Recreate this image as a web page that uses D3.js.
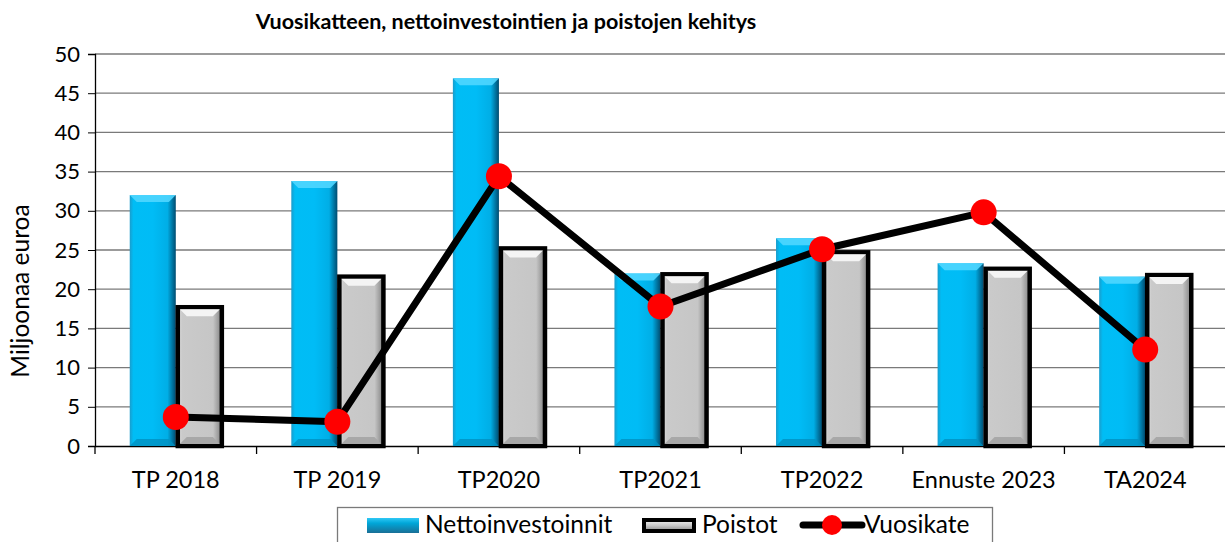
<!DOCTYPE html>
<html>
<head>
<meta charset="utf-8">
<script src="https://cdn.jsdelivr.net/npm/d3@7"></script>
<style>
  body { margin: 0; background: #fff; }
  svg { font-family: Lato, "Open Sans", sans-serif; }
</style>
</head>
<body>
<svg id="drawing_region"></svg>
<script>
// data
const categories = ["TP 2018", "TP 2019", "TP2020", "TP2021", "TP2022", "Ennuste 2023", "TA2024"];
const nettoinvestoinnit = [32.0, 33.8, 46.9, 22.0, 26.5, 23.3, 21.6];
const poistot = [17.7, 21.6, 25.2, 21.9, 24.7, 22.6, 21.8];
const vuosikate = [3.7, 3.1, 34.4, 17.8, 25.1, 29.8, 12.3];
const yTicks = [0, 5, 10, 15, 20, 25, 30, 35, 40, 45, 50];

const W = 1225, H = 542;
const margin = {top: 54, right: 0, bottom: 96, left: 95};
const inner_w = 1226 - margin.left;
const inner_h = H - margin.top - margin.bottom;

const svg = d3.select('#drawing_region').attr('width', W).attr('height', H);

// gradients
const defs = svg.append('defs');
const blueGrad = defs.append('linearGradient').attr('id', 'blueGrad');
[[0, '#1a9ccc'], [0.08, '#00bdf5'], [0.5, '#00bcf6'], [0.82, '#00aee6'], [1, '#004c70']]
  .forEach(s => blueGrad.append('stop').attr('offset', s[0]).attr('stop-color', s[1]));
const grayGrad = defs.append('linearGradient').attr('id', 'grayGrad');
[[0, '#e0e0e0'], [0.1, '#cacaca'], [0.8, '#c6c6c6'], [1, '#808080']]
  .forEach(s => grayGrad.append('stop').attr('offset', s[0]).attr('stop-color', s[1]));
const blueV = defs.append('linearGradient').attr('id', 'blueV').attr('x1', 0).attr('x2', 0).attr('y1', 0).attr('y2', 1);
[[0, '#2fc8f5'], [0.35, '#00a6d8'], [1, '#1a6f96']]
  .forEach(s => blueV.append('stop').attr('offset', s[0]).attr('stop-color', s[1]));
const grayV = defs.append('linearGradient').attr('id', 'grayV').attr('x1', 0).attr('x2', 0).attr('y1', 0).attr('y2', 1);
[[0, '#f2f2f2'], [0.5, '#c8c8c8'], [1, '#8a8a8a']]
  .forEach(s => grayV.append('stop').attr('offset', s[0]).attr('stop-color', s[1]));

const chart = svg.append('g').attr('transform', `translate(${margin.left},${margin.top})`);

const x = d3.scaleBand().domain(categories).range([0, inner_w]);
const y = d3.scaleLinear().domain([0, 50]).range([inner_h, 0]);
const barW = x.bandwidth() * 0.285;

// grid
chart.append('g').selectAll('line').data(yTicks.slice(1)).join('line')
  .attr('x1', 0).attr('x2', inner_w)
  .attr('y1', d => y(d)).attr('y2', d => y(d))
  .attr('stroke', '#7a7a7a').attr('stroke-width', 1.3);

// axes
const yAxis = chart.append('g').call(d3.axisLeft(y).tickValues(yTicks).tickSize(7).tickPadding(8));
yAxis.attr('font-family', null);
yAxis.select('.domain').attr('stroke', '#000').attr('stroke-width', 1.3);
yAxis.selectAll('.tick line').attr('stroke', '#000');
yAxis.selectAll('text').attr('font-size', 22).attr('fill', '#000');

const xAxis = chart.append('g').attr('transform', `translate(0,${inner_h})`)
  .call(d3.axisBottom(x).tickSize(0).tickPadding(25));
xAxis.attr('font-family', null);
xAxis.select('.domain').attr('stroke', '#000').attr('stroke-width', 1.3);
xAxis.selectAll('text').attr('font-size', 23.5).attr('fill', '#000');
chart.append('g').selectAll('line').data(d3.range(categories.length + 1)).join('line')
  .attr('x1', i => i * x.step()).attr('x2', i => i * x.step())
  .attr('y1', inner_h).attr('y2', inner_h + 8)
  .attr('stroke', '#000').attr('stroke-width', 1.3);

// blue bars with bevel top
const cx = d => x(d) + x.bandwidth() / 2;
const blue = chart.append('g').selectAll('g').data(categories).join('g');
blue.append('rect')
  .attr('x', d => cx(d) - barW).attr('y', (d, i) => y(nettoinvestoinnit[i]))
  .attr('width', barW).attr('height', (d, i) => inner_h - y(nettoinvestoinnit[i]))
  .attr('fill', 'url(#blueGrad)');
blue.append('path')
  .attr('d', (d, i) => {
    const x0 = cx(d) - barW, x1 = cx(d), t = y(nettoinvestoinnit[i]);
    return `M${x0},${t}L${x1},${t}L${x1 - 7},${t + 7}L${x0 + 7},${t + 7}Z`;
  })
  .attr('fill', '#4fd6ff').attr('opacity', 0.9);
blue.append('path')
  .attr('d', (d, i) => {
    const x0 = cx(d) - barW, x1 = cx(d), b = inner_h;
    return `M${x0},${b}L${x1},${b}L${x1 - 7},${b - 7}L${x0 + 7},${b - 7}Z`;
  })
  .attr('fill', '#0090c0').attr('opacity', 0.8);

// gray bars
const gray = chart.append('g').selectAll('g').data(categories).join('g');
gray.append('rect')
  .attr('x', d => cx(d) + 2).attr('y', (d, i) => y(poistot[i]))
  .attr('width', barW - 2).attr('height', (d, i) => inner_h - y(poistot[i]))
  .attr('fill', 'url(#grayGrad)').attr('stroke', '#000').attr('stroke-width', 4.5);
gray.append('path')
  .attr('d', (d, i) => {
    const x0 = cx(d) + 4, x1 = cx(d) + barW - 2, t = y(poistot[i]) + 2;
    return `M${x0},${t}L${x1},${t}L${x1 - 7},${t + 7}L${x0 + 7},${t + 7}Z`;
  })
  .attr('fill', '#f4f4f4');
gray.append('path')
  .attr('d', (d, i) => {
    const x0 = cx(d) + 4, x1 = cx(d) + barW - 2, b = inner_h - 2;
    return `M${x0},${b}L${x1},${b}L${x1 - 7},${b - 7}L${x0 + 7},${b - 7}Z`;
  })
  .attr('fill', '#a8a8a8');

// line
const line = d3.line().x((d, i) => cx(categories[i])).y(d => y(d));
chart.append('path').datum(vuosikate)
  .attr('d', line).attr('fill', 'none')
  .attr('stroke', '#000').attr('stroke-width', 7).attr('stroke-linejoin', 'round');
chart.append('g').selectAll('circle').data(vuosikate).join('circle')
  .attr('cx', (d, i) => cx(categories[i])).attr('cy', d => y(d))
  .attr('r', 13).attr('fill', '#ff0000');

// title
svg.append('text').attr('x', 506).attr('y', 29).attr('text-anchor', 'middle')
  .attr('font-size', 21.5).attr('font-weight', 'bold').text('Vuosikatteen, nettoinvestointien ja poistojen kehitys');

// y label
svg.append('text').attr('transform', 'translate(29,291) rotate(-90)')
  .attr('text-anchor', 'middle').attr('font-size', 24.5).text('Miljoonaa euroa');

// legend
const lg = svg.append('g');
lg.append('rect').attr('x', 337.5).attr('y', 507.5).attr('width', 655).attr('height', 40)
  .attr('fill', '#fff').attr('stroke', '#7a7a7a').attr('stroke-width', 1.3);
lg.append('rect').attr('x', 367).attr('y', 518).attr('width', 52).attr('height', 15).attr('fill', 'url(#blueV)');
lg.append('text').attr('x', 425).attr('y', 533).attr('font-size', 24.5).text('Nettoinvestoinnit');
lg.append('rect').attr('x', 644).attr('y', 520).attr('width', 50).attr('height', 11)
  .attr('fill', 'url(#grayV)').attr('stroke', '#000').attr('stroke-width', 4);
lg.append('text').attr('x', 702).attr('y', 533).attr('font-size', 24.5).text('Poistot');
lg.append('line').attr('x1', 803).attr('x2', 862).attr('y1', 525).attr('y2', 525)
  .attr('stroke', '#000').attr('stroke-width', 7).attr('stroke-linecap', 'round');
lg.append('circle').attr('cx', 832).attr('cy', 525).attr('r', 10).attr('fill', '#ff0000');
lg.append('text').attr('x', 864).attr('y', 533).attr('font-size', 24.5).text('Vuosikate');
</script>
</body>
</html>
